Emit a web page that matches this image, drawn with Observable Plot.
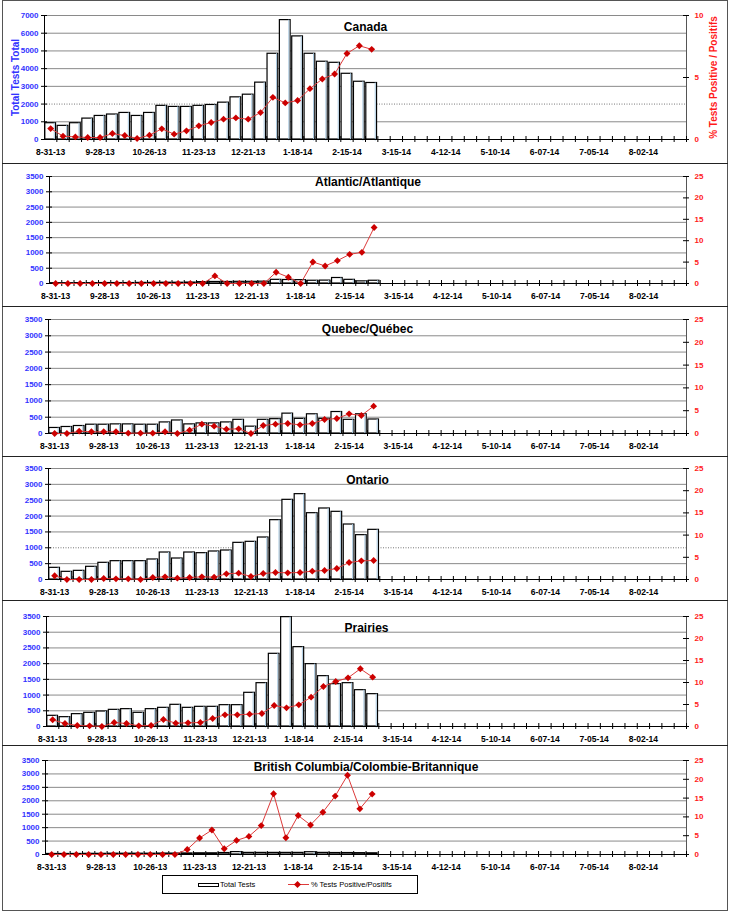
<!DOCTYPE html>
<html><head><meta charset="utf-8">
<script src="https://cdn.jsdelivr.net/npm/d3@7"></script>
<script src="https://cdn.jsdelivr.net/npm/@observablehq/plot@0.6"></script>
<style>
body{margin:0;background:#fff;font-family:"Liberation Sans",Arial,sans-serif;}
#root{position:relative;width:730px;height:914px;overflow:hidden;}
.panel{position:absolute;left:0;width:730px;}
.frame{position:absolute;left:2px;top:0px;width:724px;height:909px;border:1.5px solid #555;}
.sep{position:absolute;left:2px;width:726px;height:0;border-top:1.5px solid #222;}
.legend{position:absolute;left:162px;top:875px;width:254px;height:17px;border:1px solid #000;background:#fff;font-size:7.5px;color:#000;}
.legend span{position:absolute;}
</style></head><body><div id="root"><div class="frame"></div></div>
<script>
const weeks = ["8-31-13","9-07-13","9-14-13","9-21-13","9-28-13","10-05-13","10-12-13","10-19-13","10-26-13","11-02-13","11-09-13","11-16-13","11-23-13","11-30-13","12-07-13","12-14-13","12-21-13","12-28-13","1-04-14","1-11-14","1-18-14","1-25-14","2-01-14","2-08-14","2-15-14","2-22-14","3-01-14","3-08-14","3-15-14","3-22-14","3-29-14","4-05-14","4-12-14","4-19-14","4-26-14","5-03-14","5-10-14","5-17-14","5-24-14","5-31-14","6-07-14","6-14-14","6-21-14","6-28-14","7-05-14","7-12-14","7-19-14","7-26-14","8-02-14","8-09-14","8-16-14","8-23-14"];
const tickLabels = ["8-31-13","9-28-13","10-26-13","11-23-13","12-21-13","1-18-14","2-15-14","3-15-14","4-12-14","5-10-14","6-07-14","7-05-14","8-02-14"];

const canadaTotal = [920,770,920,1180,1330,1410,1500,1330,1500,1900,1840,1840,1900,1950,2080,2380,2530,3210,4840,6740,5820,4840,4390,4330,3710,3260,3190];
const canadaPct = [0.88,0.27,0.21,0.16,0.16,0.48,0.32,0.08,0.35,0.86,0.43,0.70,1.10,1.37,1.64,1.74,1.64,2.17,3.40,2.95,3.14,4.10,4.88,5.28,6.94,7.56,7.27];
const atlanticTotal = [10,10,12,12,15,15,15,20,20,25,25,30,45,50,50,55,55,60,120,115,110,90,95,180,120,70,90];
const atlanticPct = [0,0,0,0,0,0,0,0,0,0,0,0,0,1.78,0,0,0,0,2.63,1.47,0,5.03,4.10,5.34,6.81,7.28,13.08];
const quebecTotal = [170,200,230,270,270,280,280,270,270,340,400,280,310,310,340,420,210,420,440,610,450,590,450,660,420,590,430];
const quebecPct = [0,0,0.51,0.37,0.37,0.37,0.07,0.07,0.07,0.37,0,0.73,2.05,1.61,0.95,1.02,0,1.75,2.05,2.19,1.90,2.19,3.07,3.29,4.31,3.95,6.0];
const ontarioTotal = [368,242,273,400,526,578,578,578,631,851,662,851,830,883,914,1156,1188,1324,1871,2512,2691,2091,2239,2134,1734,1398,1566];
const ontarioPct = [0.83,0,0,0,0.23,0.15,0.15,0,0.45,0.60,0.30,0.45,0.60,0.53,1.28,1.43,0.68,1.35,1.58,1.50,1.58,1.88,2.03,2.48,3.83,4.20,4.28];
const prairiesTotal = [340,297,393,435,477,530,552,435,552,594,690,594,626,626,679,679,1072,1379,2313,3480,2525,1984,1602,1347,1379,1156,1029];
const prairiesPct = [1.52,0.68,0.23,0.15,0,0.91,0.68,0.15,0.23,1.59,0.76,0.83,0.91,1.82,2.65,2.65,2.80,2.95,4.77,4.24,4.92,6.67,9.09,10.23,11.06,13.11,11.21];
const bcTotal = [20,20,20,25,25,30,30,30,30,35,35,40,45,45,55,90,60,60,60,60,60,85,60,55,55,50,45];
const bcPct = [0,0,0,0,0,0,0,0,0,0,0,1.34,4.38,6.52,1.52,3.75,4.82,7.68,16.16,4.46,10.36,7.86,11.25,15.54,21.07,12.14,16.07];

const panels = [
 {title:"Canada", top:0, h:164, mt:15, mb:25, ml:44, ymax:7000, ystep:1000, pmax:10, pstep:5, total:canadaTotal, pct:canadaPct, dotted:2000, titleY:27, axisTitles:true},
 {title:"Atlantic/Atlantique", top:164, h:143, mt:12, mb:24, ml:49, ymax:3500, ystep:500, pmax:25, pstep:5, total:atlanticTotal, pct:atlanticPct, titleY:182},
 {title:"Quebec/Québec", top:307, h:150, mt:12, mb:24, ml:48, ymax:3500, ystep:500, pmax:25, pstep:5, total:quebecTotal, pct:quebecPct, titleY:329},
 {title:"Ontario", top:457, h:144, mt:11, mb:22, ml:48, ymax:3500, ystep:500, pmax:25, pstep:5, total:ontarioTotal, pct:ontarioPct, dotted:1000, titleY:480},
 {title:"Prairies", top:601, h:145, mt:15, mb:20, ml:46, ymax:3500, ystep:500, pmax:25, pstep:5, total:prairiesTotal, pct:prairiesPct, titleY:628},
 {title:"British Columbia/Colombie-Britannique", top:746, h:126, mt:14, mb:18, ml:45, ymax:3500, ystep:500, pmax:25, pstep:5, total:bcTotal, pct:bcPct, titleY:767}
];

const BLUE = "#3333ff", RED = "#ff1a1a", LINE = "#dd3a3a", DOT = "#cc0000";
const root = document.getElementById("root");

panels.forEach((p, k) => {
  const data = p.total.map((t, i) => ({i, week: weeks[i], total: t, pct: p.pct[i]}));
  const f = p.ymax / p.pmax;
  const yTicks = d3.range(0, p.ymax + 1, p.ystep);
  const pTicks = d3.range(0, p.pmax + 0.001, p.pstep);
  const tickIdx = tickLabels.map(l => weeks.indexOf(l));
  const marks = [
    Plot.ruleY(yTicks.filter(v => v > 0 && v !== p.dotted), {y: d => d, stroke: "#8a8a8a", strokeWidth: 1}),
    p.dotted ? Plot.ruleY([p.dotted], {y: d => d, stroke: "#777", strokeWidth: 1, strokeDasharray: "1,1.5"}) : null,
    Plot.rectY(data, {x1: d => d.i, x2: d => d.i + 1, y: "total", insetLeft: 0.8, insetRight: 0.8, fill: "#fff", stroke: "#000", strokeWidth: 1.2}),
    Plot.ruleX(data.filter(d => d.total > 60), {x: d => d.i + 1, y1: 0, y2: "total", dx: -2.6, insetTop: 1.5, stroke: "#a9c8df", strokeWidth: 1}),
    Plot.ruleX([0], {stroke: "#000", strokeWidth: 1}),
    Plot.ruleX([52], {stroke: "#555", strokeWidth: 1}),
    Plot.ruleY([0], {stroke: "#000", strokeWidth: 1}),
    Plot.ruleX(d3.range(1, 53), {x: d => d, y1: 0, y2: 0, insetTop: -3, insetBottom: -3, stroke: "#000", strokeWidth: 1}),
    Plot.ruleY(yTicks, {y: d => d, x1: 0, x2: 0, insetLeft: -3, insetRight: -3, stroke: "#000"}),
    Plot.ruleY(pTicks, {y: d => d * f, x1: 52, x2: 52, insetLeft: -3, insetRight: -3, stroke: "#000"}),
    Plot.text(yTicks, {x: 0, y: d => d, text: d => String(d), textAnchor: "end", dx: -6, fill: BLUE, fontWeight: "bold", fontSize: 8}),
    Plot.text(pTicks, {x: 52, y: d => d * f, text: d => String(d), textAnchor: "start", dx: 8, fill: RED, fontWeight: "bold", fontSize: 8}),
    Plot.text(tickIdx, {x: d => d + 0.5, y: 0, text: d => weeks[d], dy: 13, fill: "#000", fontWeight: "bold", fontSize: 8.5}),
    Plot.line(data, {x: d => d.i + 0.5, y: d => d.pct * f, stroke: LINE, strokeWidth: 1}),
    Plot.dot(data, {x: d => d.i + 0.5, y: d => d.pct * f, symbol: "diamond2", r: 3.1, fill: DOT, stroke: "none"}),
    Plot.text([p.title], {frameAnchor: "top", dy: p.titleY - p.top - p.mt, lineAnchor: "middle", textAnchor: "middle", fontWeight: "bold", fontSize: 12, fill: "#000"})
  ];
  if (p.axisTitles) {
    marks.push(Plot.text(["Total Tests Total"], {frameAnchor: "left", dx: -29, rotate: -90, textAnchor: "middle", lineAnchor: "middle", fill: BLUE, fontWeight: "bold", fontSize: 10}));
    marks.push(Plot.text(["% Tests Positive / Positifs"], {frameAnchor: "right", dx: 27, rotate: -90, textAnchor: "middle", lineAnchor: "middle", fill: RED, fontWeight: "bold", fontSize: 10}));
  }
  const svg = Plot.plot({
    width: 730, height: p.h,
    marginLeft: p.ml, marginRight: 44, marginTop: p.mt, marginBottom: p.mb,
    x: {domain: [0, 52], axis: null},
    y: {domain: [0, p.ymax], axis: null},
    style: {fontFamily: '"Liberation Sans", Arial, sans-serif', background: "transparent", overflow: "visible"},
    marks: marks.filter(Boolean)
  });
  const div = document.createElement("div");
  div.className = "panel";
  div.style.top = p.top + "px";
  div.appendChild(svg);
  root.appendChild(div);
  if (k > 0) {
    const s = document.createElement("div");
    s.className = "sep";
    s.style.top = (p.top - 1) + "px";
    root.appendChild(s);
  }
});

// legend below the last panel
const lg = document.createElement("div");
lg.className = "legend";
lg.innerHTML =
  '<span style="left:35px;top:7px;width:19px;height:2px;border:1px solid #000;background:#fff"></span>' +
  '<span style="left:57px;top:4px;">Total Tests</span>' +
  '<span style="left:125px;top:8px;width:21px;height:0;border-top:1.2px solid ' + LINE + '"></span>' +
  '<span style="left:132px;top:5.5px;width:5px;height:5px;background:' + DOT + ';transform:rotate(45deg)"></span>' +
  '<span style="left:148px;top:4px;">% Tests Positive/Positifs</span>';
root.appendChild(lg);
</script>
</body></html>
